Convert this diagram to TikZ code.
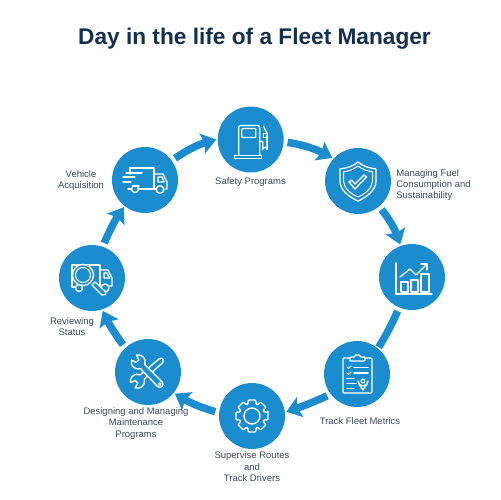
\documentclass[tikz,border=0pt]{standalone}
\usepackage{fontspec}
\setmainfont{Liberation Sans}
\usetikzlibrary{arrows.meta}
\definecolor{fleetblue}{HTML}{1B8DCE}
\definecolor{titlenavy}{HTML}{14304F}
\definecolor{labelgrey}{HTML}{3C4653}
\tikzset{
  x=0.02cm,y=-0.02cm,
  hub/.style={circle,fill=fleetblue,minimum size=1.32cm,inner sep=0pt,outer sep=0.03cm},
  flow/.style={draw=fleetblue,line width=0.15cm,shorten <=0.05cm},
  flowhead/.style={flow,-{Stealth[length=0.29cm,width=0.41cm,inset=0.05cm]}},
  lab/.style={text=labelgrey,font=\fontsize{5.4}{6.5}\selectfont,align=center,inner sep=0pt},
  ico/.style={draw=white,line width=0.026cm,line join=round,line cap=round},
  icothin/.style={ico,line width=0.02cm}
}
\begin{document}
\begin{tikzpicture}
\useasboundingbox (0,0) rectangle (500,500);
\node[text=titlenavy,font=\fontsize{12.9}{14}\selectfont\bfseries,inner sep=0pt] (title) at (254.5,38.5) {Day in the life of a Fleet Manager};

\node[hub] (safety) at (250.7,139.5) {};
\node[hub] (shield) at (358,181) {};
\node[hub] (chart) at (412,277) {};
\node[hub] (clip) at (357,374) {};
\node[hub] (gear) at (252,416) {};
\node[hub] (tools) at (148,372) {};
\node[hub] (review) at (92,278) {};
\node[hub] (truck) at (145,180) {};

\draw[flowhead] (truck.36) to[bend left=9] (safety.180);
\draw[flowhead] (safety.-4) to[bend left=9] (shield.138);
\draw[flowhead] (shield.-50) to[bend left=9] (chart.110);
\draw[flow] (chart.-113) to[bend left=4] (clip.51);
\draw[flowhead] (clip.217) to[bend left=3] (gear.7);
\draw[flowhead] (gear.174) to[bend left=7] (tools.-39);
\draw[flowhead] (tools.133) to[bend left=5] (review.-72);
\draw[flowhead] (review.71) to[bend left=5] (truck.-128);

\node[lab] (l1) at (81,180.5) {Vehicle\\Acquisition};
\node[lab] (l2) at (250.5,182.5) {Safety Programs};
\node[lab,align=left,anchor=west] (l3) at (396,185) {Managing Fuel\\Consumption and\\Sustainability};
\node[lab] (l4) at (360,421) {Track Fleet Metrics};
\node[lab] (l5) at (252,467) {Supervise Routes\\and\\Track Drivers};
\node[lab] (l6) at (136,423.5) {Designing and Managing\\Maintenance\\Programs};
\node[lab] (l7) at (72,326.5) {Reviewing\\Status};

% fuel pump
\begin{scope}[shift={(safety.center)}]
\draw[ico,rounded corners=0.04cm] (-12,16) -- (-12,-14) -- (9,-14) -- (9,16);
\draw[ico,rounded corners=0.02cm] (-9,-11) rectangle (5,-2);
\draw[ico] (-16,16) rectangle (11,19);
\draw[ico] (9,2) -- (12,2) -- (12,10) arc[start angle=180,end angle=360,radius=2.2] -- (16.4,-6) -- (13,-13);
\draw[ico] (16.4,-6) -- (12.5,-6) -- (12.5,-2) -- (16.4,-2);
\end{scope}
% shield
\begin{scope}[shift={(shield.center)}]
\draw[ico] (0,-19) .. controls (-6,-14) and (-12,-13) .. (-18,-12) -- (-18,0) .. controls (-18,9) and (-9,16) .. (0,20) .. controls (9,16) and (18,9) .. (18,0) -- (18,-12) .. controls (12,-13) and (6,-14) .. (0,-19) -- cycle;
\draw[icothin] (0,-15) .. controls (-5,-11) and (-10,-10) .. (-14.5,-9) -- (-14.5,0) .. controls (-14.5,7) and (-7,13) .. (0,16) .. controls (7,13) and (14.5,7) .. (14.5,0) -- (14.5,-9) .. controls (10,-10) and (5,-11) .. (0,-15) -- cycle;
\draw[ico] (-9,1) -- (-6.5,-1) -- (-3,3) -- (6,-6) -- (8.5,-4) -- (-3,8) -- cycle;
\end{scope}
% chart
\begin{scope}[shift={(chart.center)}]
\draw[ico] (-16,-14) -- (-16,17) -- (20,17);
\draw[ico] (-11,5) rectangle (-4,15);
\draw[ico] (-1,3) rectangle (6,15);
\draw[ico] (9,-3) rectangle (17,15);
\draw[ico] (-12,0) -- (-2,-8) -- (4,-2) -- (15,-13);
\draw[ico] (9,-13) -- (15,-13) -- (15,-7);
\end{scope}
% clipboard
\begin{scope}[shift={(clip.center)}]
\draw[ico,rounded corners=0.02cm] (-14,-16) rectangle (15,19);
\draw[ico,fill=fleetblue,rounded corners=0.02cm] (-7,-14) -- (-7,-17) -- (-2,-17) -- (-2,-19) -- (3,-19) -- (3,-17) -- (8,-17) -- (8,-13) -- (-7,-13) -- cycle;
\draw[icothin] (-10,-7) -- (-8.5,-5.5) -- (-6,-8);
\draw[icothin] (-10,-1) -- (-8.5,0.5) -- (-6,-2);
\draw[ico] (-3,-6.5) -- (11,-6.5);
\draw[ico] (-3,-1) -- (11,-1);
\draw[ico] (-10,4.5) -- (-3,4.5);
\draw[ico] (-10,9.5) -- (-1,9.5);
\draw[ico] (-10,14.5) -- (-3,14.5);
\draw[ico,fill=fleetblue] (6,16) .. controls (3,11) and (1,10) .. (1,7) arc[start angle=180,end angle=0,radius=5] .. controls (11,10) and (9,11) .. (6,16) -- cycle;
\draw[icothin] (6,7) circle[radius=2];
\end{scope}
% gear
\begin{scope}[shift={(gear.center)}]
\draw[ico,rounded corners=0.018cm] (-13:16.5)
  \foreach \a in {0,45,...,315} { -- (\a-13:16.5) -- (\a+13:16.5) -- (\a+19:12.5) -- (\a+45-19:12.5) } -- cycle;
\draw[ico] (0,0) circle[radius=8];
\end{scope}
% tools
\begin{scope}[shift={(tools.center)}]
\begin{scope}[rotate=41]
\draw[ico] (-7.7,3) arc[start angle=25,end angle=150,radius=7] -- (-15,1.8) -- (-15,-1.8) -- (-20.06,-3.5) arc[start angle=210,end angle=335,radius=7] -- (17,-2.6) arc[start angle=-90,end angle=90,radius=2.6] -- cycle;
\end{scope}
\begin{scope}[rotate=-46]
\draw[ico,fill=fleetblue] (-7.7,3) arc[start angle=25,end angle=150,radius=7] -- (-15,1.8) -- (-15,-1.8) -- (-20.06,-3.5) arc[start angle=210,end angle=335,radius=7] -- (17,-3.2) arc[start angle=-90,end angle=90,radius=3.2] -- cycle;
\draw[icothin] (17,0) circle[radius=1.4];
\end{scope}
\end{scope}
% inspection truck
\begin{scope}[shift={(review.center)}]
\draw[ico] (-13,9) -- (-20,9) -- (-20,-13) -- (8,-13) -- (8,9) -- (2,9);
\draw[ico] (8,-8) -- (16,-8) -- (20,0) -- (20,8) -- (17,8);
\draw[ico] (12,-5) -- (15,-5) -- (17.5,0) -- (12,0) -- cycle;
\draw[ico,fill=fleetblue] (-13,10) circle[radius=3.5];
\draw[ico,fill=fleetblue] (13,10) circle[radius=4];
\draw[ico,fill=fleetblue] (-9,-3) circle[radius=10.5];
\draw[icothin] (-9,-3) circle[radius=7.5];
\draw[ico,fill=fleetblue] (0,7) -- (3,4) -- (14,14) .. controls (15,16) and (12,18) .. (10,17) -- cycle;
\end{scope}
% delivery truck
\begin{scope}[shift={(truck.center)}]
\draw[ico] (-15,-6) -- (-15,-12) -- (9,-12) -- (9,9) -- (-6,9);
\draw[ico] (9,-6) -- (18,-6) -- (22,2) -- (22,9) -- (20,9);
\draw[ico] (9,9) -- (11,9);
\draw[ico] (13,-3) -- (17,-3) -- (19,2) -- (13,2) -- cycle;
\draw[ico] (-10,9) circle[radius=3.5];
\draw[ico] (15,9.5) circle[radius=3.8];
\draw[ico] (-17,9) -- (-14,9);
\draw[ico] (-19,-7) -- (-3,-7);
\draw[ico] (-22,-3) -- (-10,-3);
\draw[ico] (-22,2) -- (-14,2);
\draw[ico] (-12,6) -- (-6,6);
\end{scope}
\end{tikzpicture}
\end{document}
